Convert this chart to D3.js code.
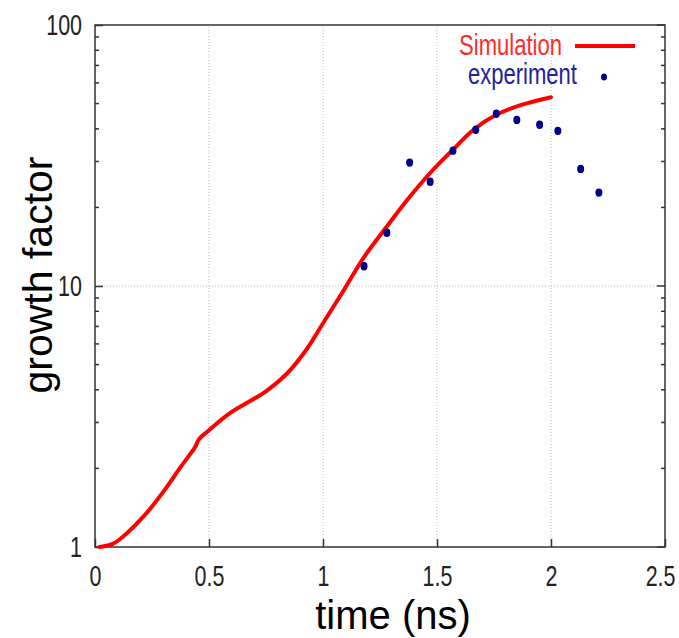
<!DOCTYPE html>
<html>
<head>
<meta charset="utf-8">
<script src="https://cdn.jsdelivr.net/npm/d3@7"></script>
<style>
  body { margin: 0; background: #fff; }
  svg { display: block; }
</style>
</head>
<body>
<svg id="chart"></svg>
<script>
// simulation curve (time in ns, growth factor)
const simTime = [0.02, 0.08, 0.14, 0.22, 0.30, 0.38, 0.44, 0.455, 0.50, 0.59, 0.75, 0.84, 0.93, 1.00, 1.09, 1.18, 1.28, 1.37, 1.47, 1.57, 1.66, 1.76, 1.87, 2.00];
const simGrowth = [1.0, 1.03, 1.13, 1.33, 1.63, 2.05, 2.42, 2.58, 2.8, 3.25, 3.95, 4.6, 5.75, 7.2, 9.6, 12.9, 16.9, 21.4, 27.1, 33.3, 39.7, 45.3, 49.4, 52.9];

// experiment points
const expTime = [1.18, 1.28, 1.38, 1.47, 1.57, 1.67, 1.76, 1.85, 1.95, 2.03, 2.13, 2.21];
const expGrowth = [11.9, 16.0, 29.7, 25.1, 33.0, 39.7, 45.7, 43.3, 41.5, 39.3, 28.1, 22.8];

const xTicks = [0, 0.5, 1, 1.5, 2, 2.5];
const yTicks = [1, 10, 100];
const yMinor = [2, 3, 4, 5, 6, 7, 8, 9, 20, 30, 40, 50, 60, 70, 80, 90];

const width = 679, height = 638;
const margin = { top: 25, right: 14, bottom: 91, left: 95 };

const svg = d3.select('#chart').attr('width', width).attr('height', height);

const x = d3.scaleLinear().domain([0, 2.5]).range([margin.left, width - margin.right]);
const y = d3.scaleLog().domain([1, 100]).range([height - margin.bottom, margin.top]);

const font = "'Liberation Sans', Arial, sans-serif";

// squeeze text horizontally to look like the narrow face of the original
const narrow = (sel, k) => sel.each(function () {
  const w = this.getComputedTextLength();
  d3.select(this).attr('textLength', w * k).attr('lengthAdjust', 'spacingAndGlyphs');
});

// grid
svg.append('g')
  .selectAll('line')
  .data(xTicks.slice(1, -1))
  .enter()
  .append('line')
  .attr('x1', d => x(d)).attr('x2', d => x(d))
  .attr('y1', y(1)).attr('y2', y(100))
  .attr('stroke', '#bbb')
  .attr('stroke-dasharray', '1,2');

svg.append('line')
  .attr('x1', x(0)).attr('x2', x(2.5))
  .attr('y1', y(10)).attr('y2', y(10))
  .attr('stroke', '#bbb')
  .attr('stroke-dasharray', '1,2');

// axes (ticks inward)
const xAxis = d3.axisBottom(x).tickValues(xTicks).tickSize(-8).tickPadding(18)
  .tickFormat(d => d);
const gx = svg.append('g')
  .attr('transform', `translate(0,${y(1)})`)
  .call(xAxis)
  .call(g => g.select('.domain').remove());

const yAxis = d3.axisLeft(y).tickValues(yTicks).tickSize(-8).tickPadding(13)
  .tickFormat(d => d);
svg.append('g')
  .attr('transform', `translate(${x(0)},0)`)
  .call(yAxis)
  .call(g => g.select('.domain').remove());

svg.selectAll('.tick text')
  .style('font-family', font)
  .style('font-size', '29px')
  .attr('fill', '#222')
  .call(narrow, 0.74);
svg.selectAll('.tick line').attr('stroke', '#333').attr('stroke-width', 1.5);

// last x label sits against the right edge
gx.selectAll('.tick text')
  .filter(d => d === 2.5)
  .attr('text-anchor', 'end')
  .attr('x', width - x(2.5) - 4);

// minor y ticks on both sides, major on right side
svg.append('g')
  .selectAll('line')
  .data(yMinor)
  .enter()
  .append('line')
  .attr('x1', x(0)).attr('x2', x(0) + 4)
  .attr('y1', d => y(d)).attr('y2', d => y(d))
  .attr('stroke', '#333').attr('stroke-width', 1.5);

svg.append('g')
  .selectAll('line')
  .data(yMinor)
  .enter()
  .append('line')
  .attr('x1', x(2.5)).attr('x2', x(2.5) - 4)
  .attr('y1', d => y(d)).attr('y2', d => y(d))
  .attr('stroke', '#333').attr('stroke-width', 1.5);

svg.append('g')
  .selectAll('line')
  .data(yTicks)
  .enter()
  .append('line')
  .attr('x1', x(2.5)).attr('x2', x(2.5) - 8)
  .attr('y1', d => y(d)).attr('y2', d => y(d))
  .attr('stroke', '#333').attr('stroke-width', 1.5);

// frame
svg.append('rect')
  .attr('x', x(0)).attr('y', y(100))
  .attr('width', x(2.5) - x(0)).attr('height', y(1) - y(100))
  .attr('fill', 'none')
  .attr('stroke', '#333')
  .attr('stroke-width', 1.5);

// simulation line
const line = d3.line()
  .x((d, i) => x(simTime[i]))
  .y(d => y(d))
  .curve(d3.curveCatmullRom.alpha(0.5));

svg.append('path')
  .datum(simGrowth)
  .attr('d', line)
  .attr('fill', 'none')
  .attr('stroke', '#ff0000')
  .attr('stroke-width', 4)
  .attr('stroke-linecap', 'round')
  .attr('stroke-linejoin', 'round');

// experiment dots
svg.append('g')
  .selectAll('ellipse')
  .data(expGrowth)
  .enter()
  .append('ellipse')
  .attr('cx', (d, i) => x(expTime[i]))
  .attr('cy', d => y(d))
  .attr('rx', 3.5).attr('ry', 4.2)
  .attr('fill', '#00008b');

// legend
const legend = svg.append('g');
legend.append('text')
  .attr('x', 562).attr('y', 55)
  .attr('text-anchor', 'end')
  .style('font-family', font).style('font-size', '29px')
  .attr('fill', '#ff2a2a')
  .text('Simulation')
  .call(narrow, 0.76);
legend.append('line')
  .attr('x1', 575).attr('x2', 635)
  .attr('y1', 46).attr('y2', 46)
  .attr('stroke', '#ff0000').attr('stroke-width', 4);
legend.append('text')
  .attr('x', 577).attr('y', 84)
  .attr('text-anchor', 'end')
  .style('font-family', font).style('font-size', '29px')
  .attr('fill', '#2222a0')
  .text('experiment')
  .call(narrow, 0.76);
legend.append('ellipse')
  .attr('cx', 604).attr('cy', 77)
  .attr('rx', 3).attr('ry', 3.6)
  .attr('fill', '#00008b');

// axis titles
svg.append('text')
  .attr('x', 393).attr('y', 629)
  .attr('text-anchor', 'middle')
  .style('font-family', font)
  .style('font-size', '40px')
  .attr('fill', '#000')
  .text('time (ns)');

svg.append('text')
  .attr('transform', 'translate(52,275) rotate(-90)')
  .attr('text-anchor', 'middle')
  .style('font-family', font)
  .style('font-size', '41px')
  .attr('fill', '#000')
  .text('growth factor');
</script>
</body>
</html>
